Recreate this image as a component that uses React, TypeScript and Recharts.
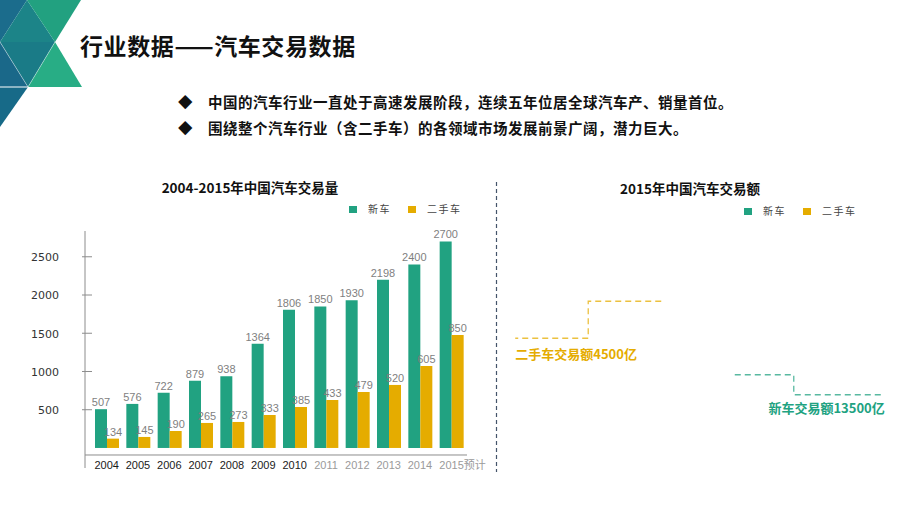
import React from "react"
import { Bar, BarChart, XAxis, YAxis, ReferenceLine, LabelList, PieChart, Pie, Cell } from "recharts"

// 2004-2015 volumes (万辆), as printed above the bars
const years = ["2004", "2005", "2006", "2007", "2008", "2009", "2010", "2011", "2012", "2013", "2014", "2015"]
const yearLabels = ["2004", "2005", "2006", "2007", "2008", "2009", "2010", "2011", "2012", "2013", "2014", "2015预计"]
const newCar = [507, 576, 722, 879, 938, 1364, 1806, 1850, 1930, 2198, 2400, 2700]
const usedCarLabels = [134, 145, 190, 265, 273, 333, 385, 433, 479, 520, 605, 850]
// the used-car bars in the picture are taller than their printed values; heights
const usedCarBars = [122, 144, 222, 327, 340, 431, 536, 627, 732, 824, 1072, 1477]
const yTicks = [500, 1000, 1500, 2000, 2500]

// 2015 turnover (亿元)
const turnoverNames = ["二手车", "新车"]
const turnoverValues = [4500, 13500]
const turnoverLabels = ["二手车交易额4500亿", "新车交易额13500亿"]

const GREEN = "#21a281"
const YELLOW = "#e5ac00"
const CJK = "'Noto Sans CJK SC', sans-serif"
const NUM = "'Liberation Sans', sans-serif"

const volumeData = years.map((year, i) => ({
  year,
  label: yearLabels[i],
  newCar: newCar[i],
  usedBar: usedCarBars[i],
  usedLabel: usedCarLabels[i],
}))

const turnoverData = turnoverNames.map((name, i) => ({
  name,
  value: turnoverValues[i],
  label: turnoverLabels[i],
}))

const sliceColors: Record<string, string> = { 二手车: YELLOW, 新车: GREEN }

// leader line shape per slice: horizontal, vertical, horizontal, then text offset
const leaders: Record<string, { h1: number; v: number; h2: number; tx: number; ty: number; anchor: string }> = {
  二手车: { h1: -73, v: 37, h2: -73, tx: -146, ty: 58, anchor: "start" },
  新车: { h1: 59, v: 20, h2: 91, tx: 150, ty: 38, anchor: "end" },
}

function XTick(props: any) {
  const { x, y, payload } = props
  const i = payload.index ?? years.indexOf(payload.value)
  const text = yearLabels[i]
  const future = i >= 7
  const last = i === years.length - 1
  return (
    <text
      x={last ? x - 12 : x}
      y={y + 1}
      textAnchor={last ? "start" : "middle"}
      fontFamily={last ? `${NUM}, ${CJK}` : NUM}
      fontSize={11}
      fill={future ? "#9a9a9a" : "#1a1a1a"}
    >
      {text}
    </text>
  )
}

function YTick(props: any) {
  const { x, y, payload } = props
  return (
    <g>
      <line x1={x - 3} x2={x + 7} y1={y} y2={y} stroke="#8c8c8c" />
      <text x={x - 26} y={y} dy="0.4em" textAnchor="end" fontFamily="'DejaVu Sans', sans-serif" fontSize={11} fill="#333">
        {payload.value}
      </text>
    </g>
  )
}

function Leader(props: any) {
  const { cx, cy, midAngle, outerRadius, name, payload } = props
  const RAD = Math.PI / 180
  const sx = cx + outerRadius * Math.cos(-midAngle * RAD)
  const sy = cy + outerRadius * Math.sin(-midAngle * RAD)
  const l = leaders[name]
  const color = sliceColors[name]
  return (
    <g>
      <path
        d={`M${sx},${sy} h${l.h1} v${l.v} h${l.h2}`}
        fill="none"
        stroke={color}
        strokeOpacity={0.75}
        strokeWidth={1.3}
        strokeDasharray="6 4"
      />
      <text x={sx + l.tx} y={sy + l.ty} textAnchor={l.anchor} fontFamily={CJK} fontWeight={700} fontSize={13} fill={color}>
        {payload.label ?? props.label}
      </text>
    </g>
  )
}

function LegendItems({ left, top }: { left: number; top: number }) {
  const item = (color: string, text: string, dx: number) => (
    <div style={{ position: "absolute", left: left + dx, top, display: "flex", alignItems: "center" }}>
      <span style={{ width: 8, height: 7, background: color, display: "inline-block" }} />
      <span style={{ marginLeft: 11, fontSize: 10, letterSpacing: 1.5, color: "#444", fontFamily: CJK, lineHeight: "12px" }}>{text}</span>
    </div>
  )
  return (
    <>
      {item(GREEN, "新车", 0)}
      {item(YELLOW, "二手车", 59)}
    </>
  )
}

function Decoration() {
  return (
    <svg width={90} height={130} style={{ position: "absolute", left: 0, top: 0 }}>
      <polygon points="0,0 27,0 0,42" fill="#1b6c8c" />
      <polygon points="27,0 55,42 0,42" fill="#1c8488" />
      <polygon points="27,0 81,0 55,42" fill="#22a180" />
      <polygon points="0,42 55,42 28,87" fill="#1a7b87" />
      <polygon points="0,42 28,87 0,87" fill="#1a6889" />
      <polygon points="55,42 82,87 28,87" fill="#28ad85" />
      <polygon points="0,87 28,87 0,127" fill="#176a88" />
      <line x1={0} y1={87} x2={28} y2={87} stroke="#ffffff" strokeWidth={1} />
      <line x1={0} y1={42} x2={28} y2={87} stroke="#ffffff" strokeOpacity={0.4} />
      <line x1={55} y1={42} x2={28} y2={87} stroke="#ffffff" strokeOpacity={0.4} />
    </svg>
  )
}

export default function App() {
  return (
    <div style={{ position: "absolute", left: 0, top: 0, width: 920, height: 517, background: "#fff", overflow: "hidden", fontFamily: CJK }}>
      <Decoration />
      <div style={{ position: "absolute", left: 80, top: 30, fontSize: 23, letterSpacing: 0.6, fontWeight: 700, lineHeight: "30px", color: "#111" }}>
        行业数据——汽车交易数据
      </div>
      {["中国的汽车行业一直处于高速发展阶段，连续五年位居全球汽车产、销量首位。", "围绕整个汽车行业（含二手车）的各领域市场发展前景广阔，潜力巨大。"].map((t, i) => (
        <div key={i} style={{ position: "absolute", left: 178, top: 91 + i * 26, fontSize: 14.5, letterSpacing: 0.5, fontWeight: 700, lineHeight: "22px", color: "#111", whiteSpace: "nowrap" }}>
          <span style={{ display: "inline-block", width: 30 }}>◆</span>
          {t}
        </div>
      ))}

      {/* left chart */}
      <div style={{ position: "absolute", left: 150, top: 177, width: 200, textAlign: "center", fontSize: 13.5, fontWeight: 700, lineHeight: "20px", color: "#111" }}>
        2004-2015年中国汽车交易量
      </div>
      <LegendItems left={349} top={203} />
      <div style={{ position: "absolute", left: 20, top: 220 }}>
        <BarChart width={480} height={260} data={volumeData} margin={{ top: 11, right: 33, bottom: 0, left: 0 }} barGap={0} barSize={12}>
          <XAxis
            dataKey="year"
            height={12}
            axisLine={false}
            tickLine={false}
            tickSize={0}
            tickMargin={0}
            interval={0}
            padding={{ left: 6, right: 0 }}
            tick={<XTick />}
          />
          <YAxis
            width={65}
            domain={[-262, 2837]}
            ticks={yTicks}
            axisLine={{ stroke: "#8c8c8c" }}
            tickLine={false}
            tickSize={0}
            tickMargin={0}
            tick={<YTick />}
          />
          <ReferenceLine y={-92} stroke="#8c8c8c" ifOverflow="visible" />
          <Bar dataKey="newCar" fill={GREEN} isAnimationActive={false}>
            <LabelList dataKey="newCar" position="top" offset={3} fill="#7f7f7f" fontSize={11} fontFamily={NUM} />
          </Bar>
          <Bar dataKey="usedBar" fill={YELLOW} isAnimationActive={false}>
            <LabelList dataKey="usedLabel" position="top" offset={3} fill="#7f7f7f" fontSize={11} fontFamily={NUM} />
          </Bar>
        </BarChart>
      </div>

      <svg width={4} height={300} style={{ position: "absolute", left: 495, top: 180 }}>
        <line x1={1.5} y1={2} x2={1.5} y2={292} stroke="#44546a" strokeWidth={1.2} strokeDasharray="4 3" />
      </svg>

      {/* right chart: the pie slices are not drawn in the picture, only their callouts */}
      <div style={{ position: "absolute", left: 590, top: 178, width: 200, textAlign: "center", fontSize: 13.5, fontWeight: 700, lineHeight: "20px", color: "#111" }}>
        2015年中国汽车交易额
      </div>
      <LegendItems left={744} top={205} />
      <div style={{ position: "absolute", left: 500, top: 220 }}>
        <PieChart width={410} height={260} margin={{ top: 0, right: 0, bottom: 0, left: 0 }}>
          <Pie
            data={turnoverData}
            dataKey="value"
            nameKey="name"
            cx={198}
            cy={118}
            outerRadius={52}
            startAngle={90}
            endAngle={450}
            stroke="none"
            labelLine={false}
            label={<Leader />}
            isAnimationActive={false}
          >
            {turnoverData.map((d) => (
              <Cell key={d.name} fill="transparent" />
            ))}
          </Pie>
        </PieChart>
      </div>
    </div>
  )
}
